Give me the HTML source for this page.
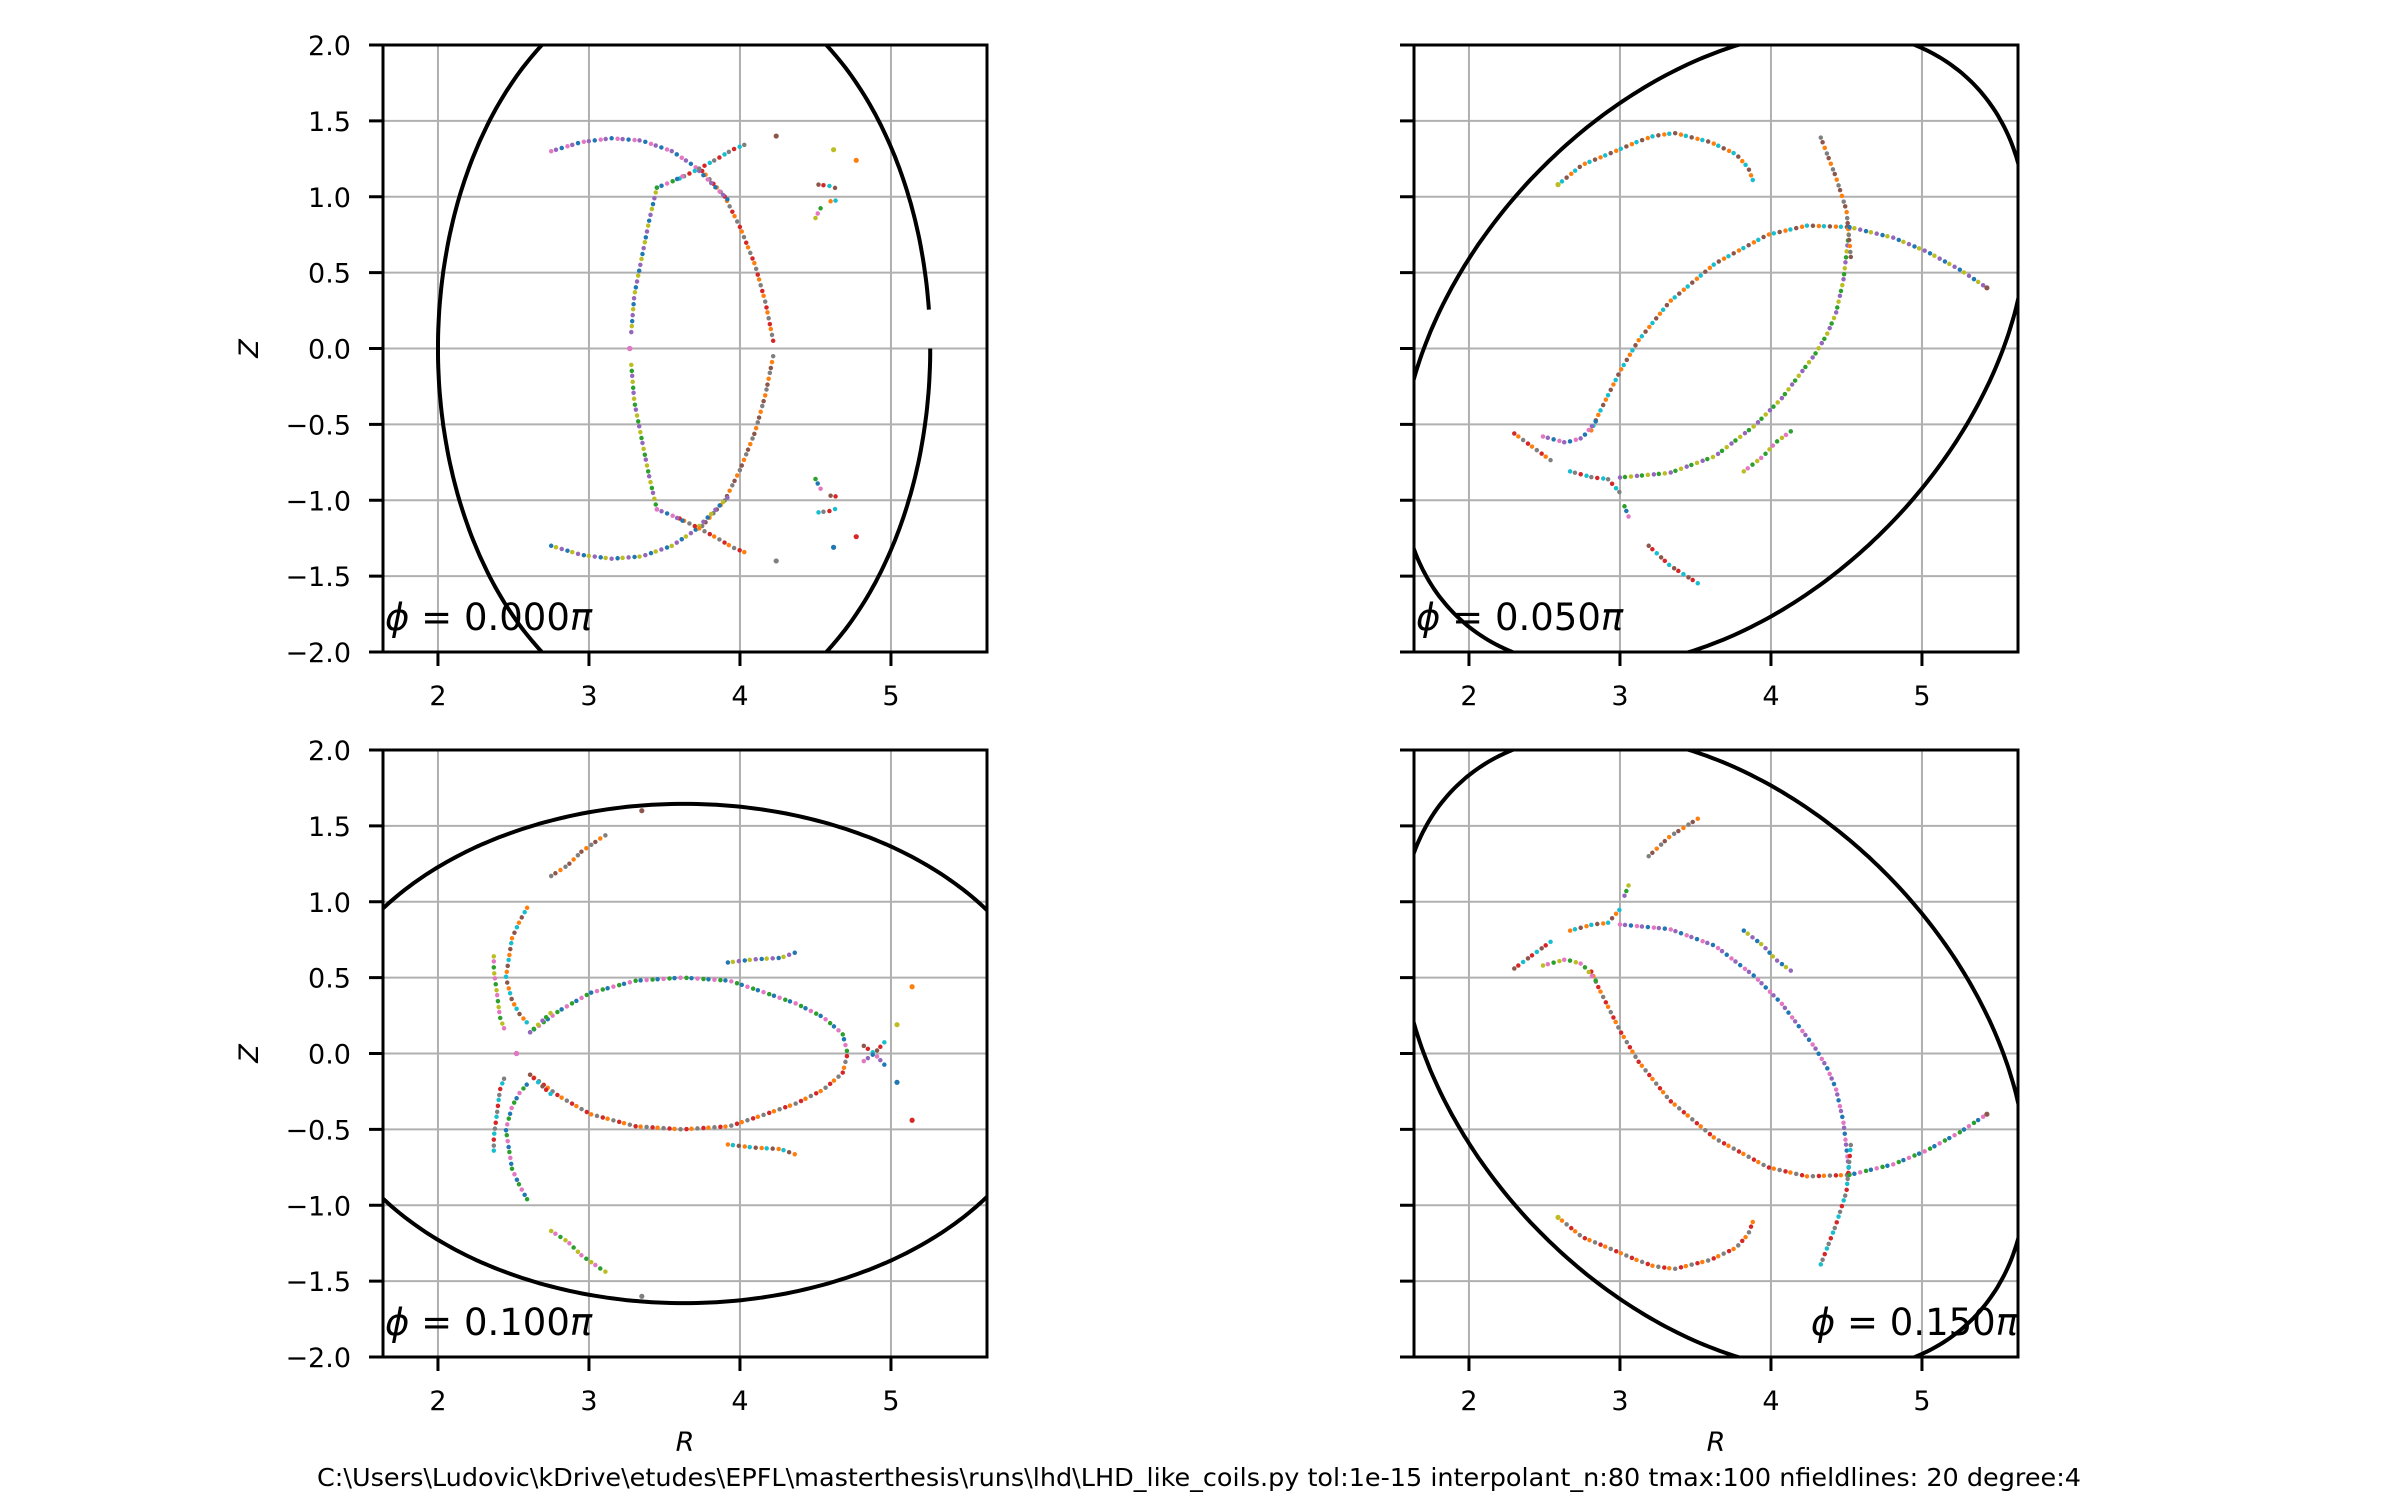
<!DOCTYPE html>
<html><head><meta charset="utf-8">
<style>
html,body{margin:0;padding:0;background:#fff;}
svg{display:block;font-family:"DejaVu Sans","Liberation Sans",sans-serif;}
</style></head>
<body>
<svg id="fig" width="2400" height="1500" viewBox="0 0 2400 1500" xmlns="http://www.w3.org/2000/svg">
<rect width="2400" height="1500" fill="#fff"/>
<text x="1199" y="1486" font-size="25" text-anchor="middle" textLength="1764" lengthAdjust="spacingAndGlyphs">C:\Users\Ludovic\kDrive\etudes\EPFL\masterthesis\runs\lhd\LHD_like_coils.py  tol:1e-15  interpolant_n:80  tmax:100  nfieldlines: 20 degree:4</text>
</svg>
<script>
// ---- data ----
const xTicks = [2, 3, 4, 5];
const yTicks = [-2.0, -1.5, -1.0, -0.5, 0.0, 0.5, 1.0, 1.5, 2.0];
const yTickLabels = ["\u22122.0","\u22121.5","\u22121.0","\u22120.5","0.0","0.5","1.0","1.5","2.0"];
const phiValues = ["0.000","0.050","0.100","0.150"];
// boundary ellipse parameters per panel: [centerR, semiR, semiZ, tiltDeg]
const boundary0 = [3.63, 1.63, 2.45, 0];
const boundary1 = [3.62, 2.45, 1.645, 46];
const boundary2 = [3.63, 2.45, 1.645, 0];
const boundary3 = [3.62, 2.45, 1.645, -46];

// panel 0 (phi=0.000), upper half; lower half is symmetric
const p0Upper = [
 [[3.45,1.06],[3.40,0.85],[3.35,0.60],[3.30,0.35],[3.28,0.10]],
 [[3.75,1.17],[3.90,1.00],[4.00,0.80],[4.10,0.55],[4.17,0.30],[4.22,0.05]],
 [[2.75,1.30],[2.95,1.36],[3.15,1.385],[3.35,1.37],[3.55,1.30],[3.70,1.20],[3.80,1.10],[3.92,0.98]],
 [[3.60,1.12],[3.72,1.18],[3.85,1.25],[3.95,1.31],[4.05,1.35]],
 [[3.45,1.06],[3.55,1.10],[3.65,1.15]],
 [[4.52,1.08],[4.60,1.07],[4.65,1.05]],
 [[4.50,0.86],[4.53,0.92],[4.56,0.95]],
 [[4.60,0.97],[4.67,0.98]]
];
const p0Dots = [[4.24,1.40],[4.62,1.31],[4.77,1.24],[3.27,0.0]];

// panel 1 (phi=0.050)
const p1Curves = [
 [[2.81,-0.54],[2.86,-0.43],[3.00,-0.15],[3.12,0.05],[3.33,0.31],[3.63,0.56],[3.98,0.75],[4.24,0.81],[4.52,0.80]],
 [[3.00,-0.85],[3.33,-0.82],[3.63,-0.71],[3.89,-0.51],[4.07,-0.33],[4.29,-0.04],[4.37,0.09],[4.43,0.23],[4.48,0.45],[4.52,0.80]],
 [[4.33,1.39],[4.43,1.13],[4.50,0.91],[4.53,0.59]],
 [[4.52,0.80],[4.81,0.73],[5.03,0.64],[5.25,0.52],[5.43,0.40]],
 [[2.30,-0.56],[2.45,-0.67],[2.56,-0.75]],
 [[2.49,-0.58],[2.64,-0.62],[2.75,-0.59],[2.84,-0.48]],
 [[2.67,-0.81],[2.82,-0.85],[2.92,-0.86],[3.00,-0.95]],
 [[3.03,-1.04],[3.07,-1.14]],
 [[3.19,-1.30],[3.33,-1.43],[3.52,-1.55]],
 [[3.82,-0.81],[3.95,-0.71],[4.03,-0.62],[4.14,-0.54]],
 [[2.59,1.08],[2.75,1.21],[2.92,1.28],[3.11,1.36],[3.22,1.40],[3.36,1.42],[3.60,1.36],[3.77,1.28],[3.85,1.19],[3.88,1.11]]
];
const p1Dots = [[5.43,0.40],[2.59,1.08]];

// panel 2 (phi=0.100), upper half; lower half symmetric
const p2Upper = [
 [[2.61,0.14],[2.80,0.28],[3.01,0.40],[3.31,0.48],[3.62,0.50],[3.93,0.48],[4.14,0.41],[4.37,0.33],[4.55,0.24],[4.68,0.13],[4.71,0.01]],
 [[4.82,0.05],[4.89,0.0],[4.98,0.10]],
 [[2.37,0.64],[2.37,0.55],[2.39,0.40],[2.41,0.24],[2.44,0.16]],
 [[2.59,0.96],[2.54,0.87],[2.49,0.76],[2.45,0.50],[2.49,0.35],[2.54,0.26],[2.61,0.18]],
 [[2.61,0.14],[2.75,0.27]],
 [[2.75,1.17],[2.86,1.24],[2.95,1.33],[3.08,1.42],[3.13,1.45]],
 [[3.92,0.60],[4.09,0.62],[4.27,0.63],[4.38,0.67]]
];
const p2Dots = [[3.35,1.60],[5.04,0.19],[5.14,0.44],[2.52,0.0]];

// ---- layout ----
const panels = [
 {x0:383, y0:45,  w:604, h:607, boundary:boundary0, label:0, ylab:true, gap:true},
 {x0:1414,y0:45,  w:604, h:607, boundary:boundary1, label:1, ylab:false, gap:false},
 {x0:383, y0:750, w:604, h:607, boundary:boundary2, label:2, ylab:true, gap:false},
 {x0:1414,y0:750, w:604, h:607, boundary:boundary3, label:3, ylab:false, gap:false}
];
const xmin=1.636, xmax=5.636, ymin=-2, ymax=2;
const colors=["#1f77b4","#ff7f0e","#2ca02c","#d62728","#9467bd","#8c564b","#e377c2","#7f7f7f","#bcbd22","#17becf"];
const NS="http://www.w3.org/2000/svg";
const svg=document.getElementById('fig');
function mk(tag,attrs,parent){const e=document.createElementNS(NS,tag);for(const k in attrs)e.setAttribute(k,attrs[k]);(parent||svg).appendChild(e);return e;}
function mirror(list){return list.map(c=>c.map(p=>[p[0],-p[1]]));}

const panelCurves=[
 p0Upper.concat(mirror(p0Upper)),
 p1Curves,
 p2Upper.concat(mirror(p2Upper)),
 mirror(p1Curves)
];
const panelDots=[
 p0Dots.concat(mirror([p0Dots])[0]),
 p1Dots,
 p2Dots.concat(mirror([p2Dots])[0]),
 mirror([p1Dots])[0]
];

panels.forEach((P,i)=>{
 const sx=v=>P.x0+(v-xmin)/(xmax-xmin)*P.w;
 const sy=v=>P.y0+P.h-(v-ymin)/(ymax-ymin)*P.h;
 const g=mk('g',{});
 
 
 const cid='clip'+i;
 const cp=mk('clipPath',{id:cid},g); mk('rect',{x:P.x0,y:P.y0,width:P.w,height:P.h},cp);
 // grid
 xTicks.forEach(t=>{const l=mk('line',{x1:sx(t),x2:sx(t),y1:P.y0,y2:P.y0+P.h,stroke:'#b0b0b0','stroke-width':2},g);
   });
 yTicks.forEach(t=>{const l=mk('line',{x1:P.x0,x2:P.x0+P.w,y1:sy(t),y2:sy(t),stroke:'#b0b0b0','stroke-width':2},g);
   });
 // boundary
 const [c,a,b,th]=P.boundary; const tr=th*Math.PI/180;
 const k0=P.gap?6:0;
 let pts=[];
 for(let k=k0;k<=360;k++){const t=k*Math.PI/180;
  const R=c+a*Math.cos(t)*Math.cos(tr)-b*Math.sin(t)*Math.sin(tr);
  const Z=a*Math.cos(t)*Math.sin(tr)+b*Math.sin(t)*Math.cos(tr);
  pts.push(sx(R).toFixed(1)+','+sy(Z).toFixed(1));}
 const bp=mk('path',{d:'M'+pts.join(' L'),fill:'none',stroke:'#000','stroke-width':4,'clip-path':'url(#'+cid+')'},g);
  
 // field line traces
 panelCurves[i].forEach((cv,j)=>{
  const pd='M'+cv.map(p=>sx(p[0]).toFixed(1)+','+sy(p[1]).toFixed(1)).join(' L');
  for(let pass=0;pass<3;pass++){
   const e=mk('path',{d:pd,fill:'none',stroke:colors[(j*3+pass*4+i)%10],'stroke-width':4.5,'stroke-linecap':'round','stroke-dasharray':'0 17','stroke-dashoffset':pass*6,'clip-path':'url(#'+cid+')'},g);
    
  }
 });
 panelDots[i].forEach((p,j)=>{
  const e=mk('circle',{cx:sx(p[0]),cy:sy(p[1]),r:2.6,fill:colors[(j*3+5)%10]},g);
   
 });
 // spines
 const sp=mk('rect',{x:P.x0,y:P.y0,width:P.w,height:P.h,fill:'none',stroke:'#000','stroke-width':3},g);
  
 // ticks
 xTicks.forEach(t=>{mk('line',{x1:sx(t),x2:sx(t),y1:P.y0+P.h,y2:P.y0+P.h+14,stroke:'#000','stroke-width':3},g);
  const tx=mk('text',{x:sx(t),y:P.y0+P.h+53,'font-size':27,'text-anchor':'middle'},g); tx.textContent=t;
   });
 yTicks.forEach((t,k)=>{mk('line',{x1:P.x0-14,x2:P.x0,y1:sy(t),y2:sy(t),stroke:'#000','stroke-width':3},g);
  if(P.ylab){const tx=mk('text',{x:P.x0-32,y:sy(t)+10,'font-size':27,'text-anchor':'end'},g); tx.textContent=yTickLabels[k];
   }});
 if(P.ylab){const zl=mk('text',{x:0,y:0,'font-size':27,'font-style':'italic','text-anchor':'middle',transform:'translate(258,'+(P.y0+P.h/2)+') rotate(-90)'},g);
  zl.textContent='Z';  }
 if(i>=2){const rl=mk('text',{x:P.x0+P.w/2,y:P.y0+P.h+94,'font-size':27,'font-style':'italic','text-anchor':'middle'},g);
  rl.textContent='R';  }
 const right=(i===3);
 const lb=mk('text',{x:right?P.x0+P.w:P.x0+2,y:P.y0+P.h-22,'font-size':37,'text-anchor':right?'end':'start'},g);
 const t1=mk('tspan',{'font-style':'italic'},lb); t1.textContent='\u03d5';
 const t2=mk('tspan',{},lb); t2.textContent=' = '+phiValues[P.label];
 const t3=mk('tspan',{'font-style':'italic'},lb); t3.textContent='\u03c0';
  
});
</script>
</body></html>
